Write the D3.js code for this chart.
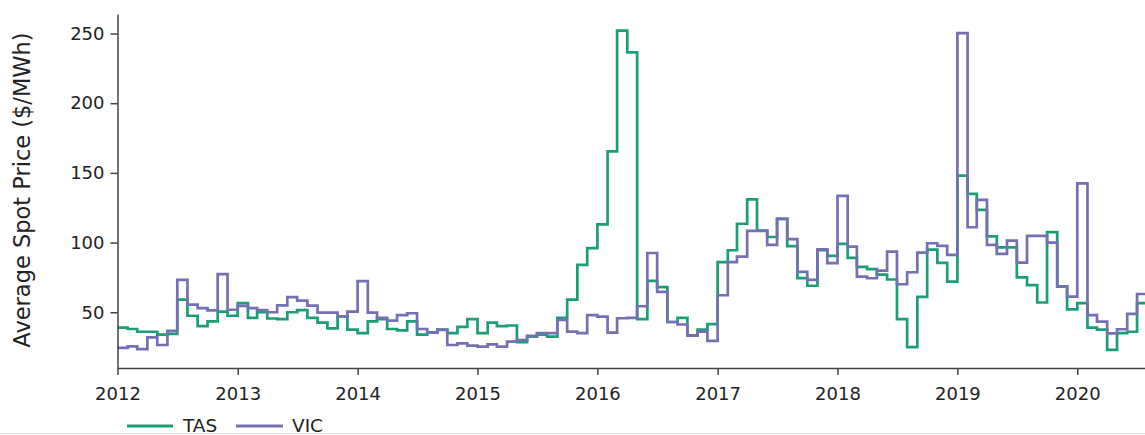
<!DOCTYPE html>
<html>
<head>
<meta charset="utf-8">
<script src="https://cdn.jsdelivr.net/npm/d3@7"></script>
<style>
  html, body { margin: 0; padding: 0; background: #fff; overflow: hidden; }
  svg { display: block; font-family: "DejaVu Sans", sans-serif; }
</style>
</head>
<body>
<svg id="chart" width="1145" height="435"></svg>
<script>
// ---- data ----
const startMonth = "2012-01";
const endMonth = "2020-09"; // exclusive
const seriesNames = ["TAS", "VIC"];
const tasValues = [
  39, 38, 36, 36, 34, 34.5, 59, 47.5, 40, 43.5, 50.5, 47.5,
  56.5, 46, 50, 45.5, 45, 50, 51.5, 46, 42.5, 38.5, 47, 37.5,
  35, 43.5, 45, 38, 37, 43.5, 34, 35.5, 37.5, 35, 39.5, 45,
  35, 42.5, 40, 40.5, 28.5, 32.5, 34, 32.5, 46, 59, 84, 96,
  113, 165.5, 252, 236.5, 45, 72.5, 68, 43, 46, 33.5, 37.5, 41.5,
  86, 94.5, 113.5, 131, 108.5, 104, 117, 97.5, 74.5, 69, 94.5, 90.5,
  99, 89, 82.5, 81, 77, 73.5, 45, 25, 61, 95, 85.5, 72,
  148, 135, 123.5, 104.5, 96.5, 96.5, 75, 69.5, 57, 107.5, 68.5, 52,
  56.5, 39, 37.5, 23, 35, 36, 56.5, 56.5
];
const vicValues = [
  24.5, 25.5, 23.5, 32, 26.5, 36.7, 73.2, 55.5, 53, 51.3, 77.3, 51.8,
  54.6, 53, 51.6, 50, 55, 60.8, 58.4, 54.7, 49.8, 49.7, 47, 50.5,
  72.3, 49.7, 45.9, 44, 48, 49.3, 38, 35.4, 37.3, 26.5, 27.7, 26,
  25.3, 27, 25.3, 28.9, 30.1, 33, 35, 35, 44.5, 36.1, 35, 48,
  46.9, 35.4, 45.7, 46, 54.3, 92.5, 64.6, 43, 41.2, 33.3, 36.1, 29.5,
  62.2, 86, 89.9, 108.4, 108.4, 98.3, 117, 102.4, 79, 73.2, 95.2, 85.2,
  133.5, 97.1, 75.6, 74.4, 79.9, 93.5, 70.1, 78.7, 92.8, 99.5, 97.6, 91.1,
  250.3, 111, 130.6, 98.3, 91.9, 101.4, 85.6, 104.8, 104.8, 100, 68.4, 61.2,
  142.5, 48, 43.3, 34.9, 37.8, 48.8, 63.1, 63.1
];
const yTicks = [50, 100, 150, 200, 250];
const xTickYears = ["2012", "2013", "2014", "2015", "2016", "2017", "2018", "2019", "2020"];
const colors = { TAS: "#1b9e77", VIC: "#7570b3" };

// ---- build ----
const parse = d3.utcParse("%Y-%m");
const parseYear = d3.utcParse("%Y");
const months = d3.utcMonths(parse(startMonth), parse(endMonth));
const svg = d3.select("#chart");

const x = d3.scaleUtc()
  .domain([parse("2012-01"), parse("2021-01")])
  .range([117.5, 117.5 + 1080]);
const y = d3.scaleLinear().domain([10, 264]).range([368, 14]);

const seriesData = {
  TAS: months.map((d, i) => ({ date: d, value: tasValues[i] })),
  VIC: months.map((d, i) => ({ date: d, value: vicValues[i] }))
};

const line = d3.line()
  .x(d => x(d.date))
  .y(d => y(d.value))
  .curve(d3.curveStepAfter);

// lines (TAS under VIC)
seriesNames.forEach(name => {
  svg.append("path")
    .datum(seriesData[name])
    .attr("fill", "none")
    .attr("stroke", colors[name])
    .attr("stroke-width", 2.7)
    .attr("stroke-linejoin", "miter")
    .attr("d", line);
});

// axes
const xAxis = svg.append("g")
  .attr("transform", "translate(0,368)")
  .call(d3.axisBottom(x)
    .tickValues(xTickYears.map(parseYear))
    .tickFormat(d3.utcFormat("%Y"))
    .tickSize(7)
    .tickPadding(12)
    .tickSizeOuter(0));
const yAxis = svg.append("g")
  .attr("transform", "translate(117.5,0)")
  .call(d3.axisLeft(y)
    .tickValues(yTicks)
    .tickSize(7)
    .tickPadding(6)
    .tickSizeOuter(0));

[xAxis, yAxis].forEach(g => {
  g.selectAll(".domain").attr("stroke", "#444").attr("stroke-width", 1.5);
  g.selectAll(".tick line").attr("stroke", "#444").attr("stroke-width", 1.5);
  g.selectAll(".tick text")
    .attr("fill", "#222")
    .attr("font-size", 18)
    .attr("font-family", "DejaVu Sans, sans-serif");
});

// y label
svg.append("text")
  .attr("transform", "translate(29.5,190) rotate(-90)")
  .attr("text-anchor", "middle")
  .attr("font-size", 22.5)
  .attr("fill", "#222")
  .text("Average Spot Price ($/MWh)");

// legend
const legend = svg.append("g");
const legendItems = [
  { name: "TAS", x0: 127, x1: 173, tx: 183 },
  { name: "VIC", x0: 236, x1: 283, tx: 292 }
];
legendItems.forEach(it => {
  legend.append("line")
    .attr("x1", it.x0).attr("x2", it.x1)
    .attr("y1", 426).attr("y2", 426)
    .attr("stroke", colors[it.name])
    .attr("stroke-width", 3);
  legend.append("text")
    .attr("x", it.tx).attr("y", 432)
    .attr("font-size", 18.5)
    .attr("fill", "#222")
    .text(it.name);
});

// bottom rule
svg.append("line")
  .attr("x1", 0).attr("x2", 1145)
  .attr("y1", 433.5).attr("y2", 433.5)
  .attr("stroke", "#ddd")
  .attr("stroke-width", 1);
</script>
</body>
</html>
